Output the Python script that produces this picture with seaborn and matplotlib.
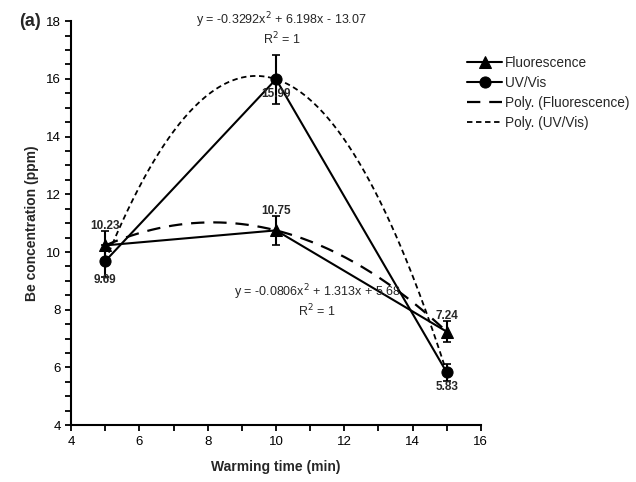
import numpy as np
import pandas as pd
import matplotlib
matplotlib.use("Agg")
import matplotlib.pyplot as plt
import seaborn as sns
from matplotlib.ticker import MultipleLocator

# data
warming_time = [5, 10, 15]
fluorescence = [10.23, 10.75, 7.24]
fluor_err = [0.5, 0.5, 0.37]
uvvis = [9.69, 15.99, 5.83]
uvvis_err = [0.55, 0.85, 0.3]

sns.set_style("ticks")
plt.rcParams['font.family'] = ['Liberation Sans', 'DejaVu Sans']

fig = plt.figure(figsize=(6.36, 4.82), dpi=100)
ax = fig.add_axes([0.112, 0.118, 0.644, 0.838])

df = pd.DataFrame({'time': warming_time, 'Fluorescence': fluorescence, 'UV/Vis': uvvis})

# error bars
ax.errorbar(warming_time, fluorescence, yerr=fluor_err, fmt='none', ecolor='black',
            elinewidth=1.5, capsize=3, capthick=1.2, zorder=3)
ax.errorbar(warming_time, uvvis, yerr=uvvis_err, fmt='none', ecolor='black',
            elinewidth=1.5, capsize=3, capthick=1.2, zorder=3)

# measured series
sns.lineplot(data=df, x='time', y='Fluorescence', ax=ax, color='black', lw=1.5,
             marker='^', markersize=8, markeredgecolor='black', label='Fluorescence')
sns.lineplot(data=df, x='time', y='UV/Vis', ax=ax, color='black', lw=1.5,
             marker='o', markersize=8, markeredgecolor='black', label='UV/Vis')

# second-order polynomial trend lines
xs = np.linspace(warming_time[0], warming_time[-1], 200)
pf = np.poly1d(np.polyfit(warming_time, fluorescence, 2))
pu = np.poly1d(np.polyfit(warming_time, uvvis, 2))
sns.lineplot(x=xs, y=pf(xs), ax=ax, color='black', lw=1.6,
             linestyle=(0, (6, 4)), label='Poly. (Fluorescence)')
sns.lineplot(x=xs, y=pu(xs), ax=ax, color='black', lw=1.3, linestyle=(0, (3, 2)),
             label='Poly. (UV/Vis)')

# value labels
lab = dict(fontsize=8.5, fontweight='bold', ha='center')
ax.text(5, 10.23 + 0.45, '10.23', va='bottom', **lab)
ax.text(5, 9.69 - 0.45, '9.69', va='top', **lab)
ax.text(10, 15.99 - 0.3, '15.99', va='top', **lab)
ax.text(10, 10.75 + 0.45, '10.75', va='bottom', **lab)
ax.text(15, 7.24 + 0.35, '7.24', va='bottom', **lab)
ax.text(15, 5.83 - 0.3, '5.83', va='top', **lab)

# equations
ax.text(10.17, 18.05, 'y = -0.3292x$^2$ + 6.198x - 13.07', ha='center', va='center', fontsize=9)
ax.text(10.17, 17.4, 'R$^2$ = 1', ha='center', va='center', fontsize=9)
ax.text(11.2, 8.62, 'y = -0.0806x$^2$ + 1.313x + 5.68', ha='center', va='center', fontsize=9)
ax.text(11.2, 7.95, 'R$^2$ = 1', ha='center', va='center', fontsize=9)

ax.set_xlim(4, 16)
ax.set_ylim(4, 18)
ax.xaxis.set_major_locator(MultipleLocator(2))
ax.xaxis.set_minor_locator(MultipleLocator(1))
ax.yaxis.set_major_locator(MultipleLocator(2))
ax.yaxis.set_minor_locator(MultipleLocator(0.5))
ax.tick_params(which='both', direction='out', length=4, width=1.3, labelsize=9.5, colors='black')
for s in ['left', 'bottom']:
    ax.spines[s].set_linewidth(1.5)
    ax.spines[s].set_color('black')
sns.despine(ax=ax)

ax.set_xlabel('Warming time (min)', fontsize=10, fontweight='bold', labelpad=9)
ax.set_ylabel('Be concentration (ppm)', fontsize=10, fontweight='bold', labelpad=5)

fig.text(0.03, 0.955, '(a)', fontsize=13, fontweight='bold', va='center')

ax.legend(loc='upper left', bbox_to_anchor=(0.715, 0.91), bbox_transform=fig.transFigure,
          frameon=False, fontsize=9.8, handlelength=2.6, handletextpad=0.2, labelspacing=0.45)

fig.savefig('out.png', dpi=100)
